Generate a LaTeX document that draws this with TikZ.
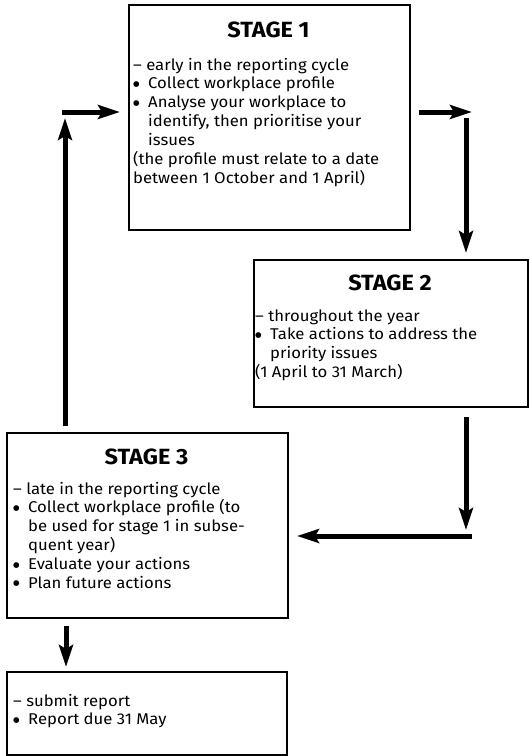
\documentclass[tikz,border=0pt]{standalone}
\usepackage{fontspec}
\setmainfont{Fira Sans}[FakeStretch=1.07]
\newfontfamily\symfont{DejaVu Sans}
\usetikzlibrary{arrows.meta, positioning}

\newcommand{\bul}{\makebox[15pt][l]{\raisebox{2.6pt}{\symfont\fontsize{7.5}{8}\selectfont ●}}}
\newcommand{\hang}{\hspace*{15pt}}

\begin{document}
\begin{tikzpicture}[x=1pt, y=-1pt,
    stagebox/.style={draw=black, line width=2pt, anchor=north west, inner sep=0pt},
    stagetitle/.style={font=\fontsize{22}{26}\selectfont\bfseries, anchor=base, inner sep=0pt},
    stagetext/.style={font=\fontsize{15.6}{18.9}\selectfont, anchor=base west, inner sep=0pt},
    flowarrow/.style={line width=5pt, -{Stealth[length=22pt, width=14pt, inset=4pt]}}]
    \useasboundingbox (0,0) rectangle (529,756);
    % Boxes
    \node[stagebox, minimum width=281pt, minimum height=225pt] (s1) at (128,4) {};
    \node[stagebox, minimum width=274pt, minimum height=147pt] (s2) at (253,259) {};
    \node[stagebox, minimum width=281pt, minimum height=185pt] (s3) at (6,432) {};
    \node[stagebox, minimum width=280pt, minimum height=83pt] (report) at (6,671) {};
    % Titles
    \node[stagetitle] (t1) at (268.5,37.5) {STAGE 1};
    \node[stagetitle] (t2) at (390,290.5) {STAGE 2};
    \node[stagetitle] (t3) at (146.5,464.5) {STAGE 3};
    % Texts
    \node[stagetext] (b1) at (133,70) {\begin{minipage}[t]{270pt}
        – early in the reporting cycle\\
        \bul Collect workplace profile\\
        \bul Analyse your workplace to\\
        \hang identify, then prioritise your\\
        \hang issues\\
        (the profile must relate to a date\\
        between 1 October and 1 April)
        \end{minipage}};
    \node[stagetext] (b2) at (255,321) {\begin{minipage}[t]{265pt}
        – throughout the year\\
        \bul Take actions to address the\\
        \hang priority issues\\
        (1 April to 31 March)
        \end{minipage}};
    \node[stagetext] (b3) at (13,494) {\begin{minipage}[t]{270pt}
        – late in the reporting cycle\\
        \bul Collect workplace profile (to\\
        \hang be used for stage 1 in subse-\\
        \hang quent year)\\
        \bul Evaluate your actions\\
        \bul Plan future actions
        \end{minipage}};
    \node[stagetext] (b4) at (13,706) {\begin{minipage}[t]{270pt}
        – submit report\\
        \bul Report due 31 May
        \end{minipage}};
    % Arrows
    \coordinate (c1) at (65,118);
    \coordinate (c2) at (62,112);
    \coordinate (c3) at (472,112);
    \coordinate (c4) at (466,118);
    \coordinate (c5) at (466,530);
    \coordinate (c6) at (472,536);
    \coordinate (c7) at (66,667);
    \draw[flowarrow, shorten <=6pt] (s3.north -| c1) -- (c1);
    \draw[flowarrow, shorten >=8pt] (c2) -- (s1.west |- c2);
    \draw[flowarrow, shorten <=8pt] (s1.east |- c3) -- (c3);
    \draw[flowarrow, shorten >=6pt] (c4) -- (c4 |- s2.north);
    \draw[flowarrow, shorten <=9pt] (c5 |- s2.south) -- (c5);
    \draw[flowarrow, shorten >=8pt] (c6) -- (s3.east |- c6);
    \draw[flowarrow, shorten <=7pt] (s3.south -| c7) -- (c7);
\end{tikzpicture}
\end{document}
